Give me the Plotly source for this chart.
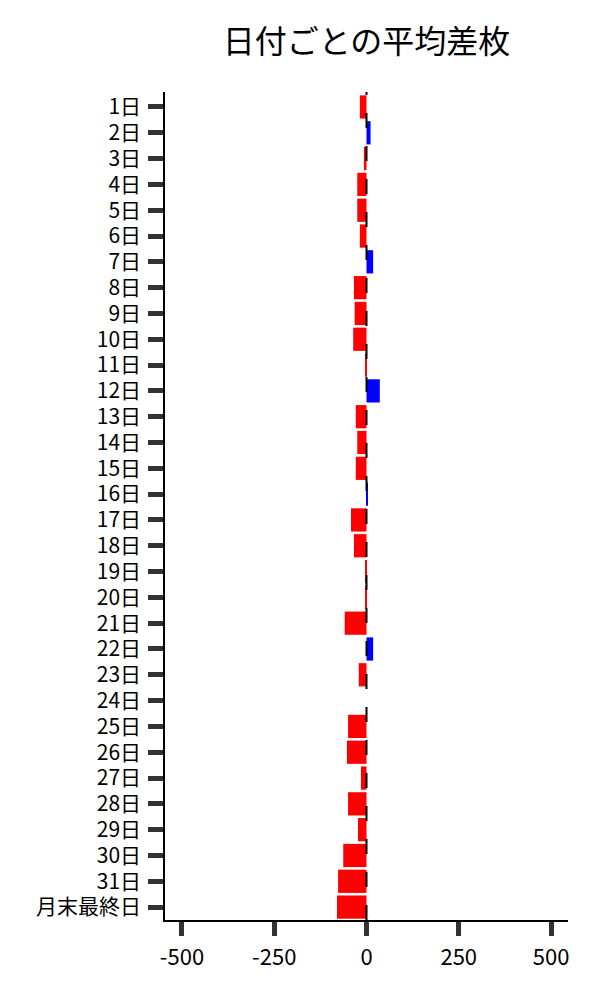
import plotly.graph_objects as go

days = [str(d) + '日' for d in range(1, 32)] + ['月末最終日']
avg_diff = [-18, 11, -7, -25, -25, -18, 18, -34, -32, -36, -4, 36,
            -29, -25, -29, 2, -42, -34, -4, -2, -59, 18, -21, 0,
            -50, -53, -15, -50, -23, -63, -77, -80]
tick_vals = [-500, -250, 0, 250, 500]
tick_text = ['-500', '-250', '0', '250', '500']

FONT = 'Noto Sans CJK JP'

colors = ['blue' if v > 0 else 'red' for v in avg_diff]

fig = go.Figure()
fig.add_trace(go.Bar(x=avg_diff, y=days, orientation='h',
                     marker=dict(color=colors, line=dict(width=0)),
                     showlegend=False))

# dashed zero line
fig.add_shape(type='line', xref='x', yref='paper', x0=0, x1=0, y0=0, y1=1,
              line=dict(color='black', width=2, dash='15px,18px'))

fig.update_layout(
    width=600, height=1000,
    paper_bgcolor='white', plot_bgcolor='white',
    margin=dict(l=157, r=40, t=84, b=88),
    bargap=0.1,
    font=dict(family=FONT, size=21, color='black'),
    title=dict(text='日付ごとの平均差枚', x=0.5, xref='paper', xanchor='center',
               y=0.966, yref='container', yanchor='middle',
               font=dict(family=FONT, size=32, color='black')),
)
fig.update_xaxes(range=[-546, 546], tickvals=tick_vals, ticktext=tick_text,
                 showgrid=False, zeroline=False,
                 showline=True, linecolor='black', linewidth=1.5,
                 ticks='outside', ticklen=14, tickwidth=5, tickcolor='#333333',
                 tickfont=dict(size=22), ticklabelstandoff=3)
fig.update_yaxes(categoryorder='array', categoryarray=days,
                 range=[len(days) - 0.5, -0.58],
                 showgrid=False, zeroline=False,
                 showline=True, linecolor='black', linewidth=1.5,
                 ticks='outside', ticklen=15, tickwidth=5, tickcolor='#333333',
                 ticklabelstandoff=3)

fig.write_html("out.html")
